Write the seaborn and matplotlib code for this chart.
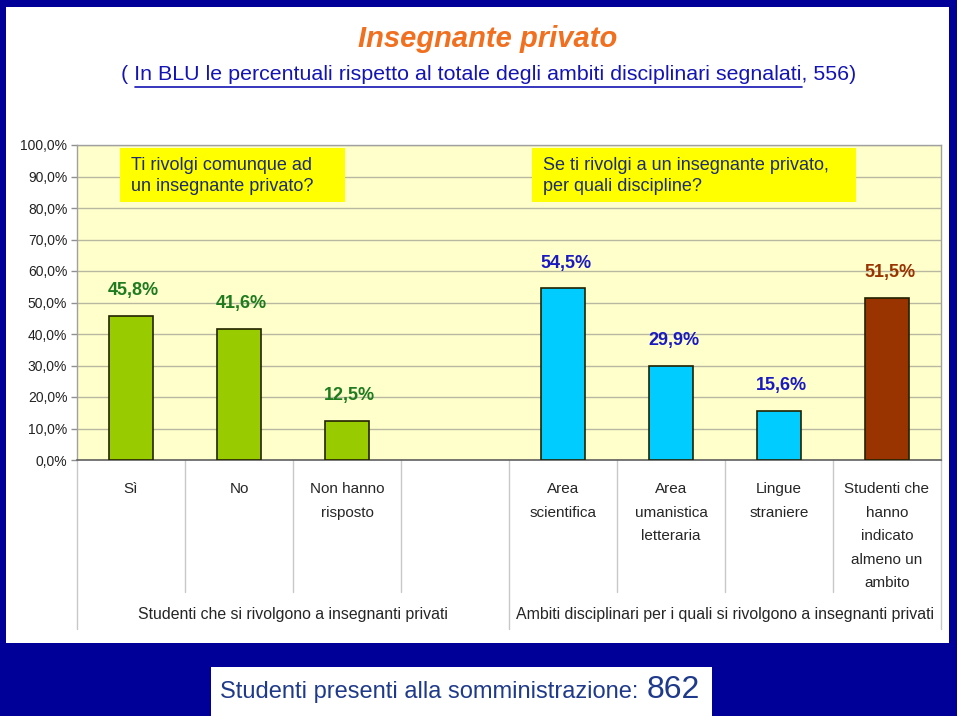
import matplotlib
matplotlib.use('Agg')
import matplotlib.pyplot as plt
import matplotlib.transforms as mtransforms
from matplotlib.patches import Rectangle
from matplotlib.font_manager import FontProperties
import seaborn as sns
import pandas as pd

# dati
chiavi = ['Sì', 'No', 'Non hanno risposto', ' ', 'Area scientifica',
          'Area umanistica letteraria', 'Lingue straniere', 'Studenti che hanno indicato almeno un ambito']
etichette_cat = ['Sì', 'No', 'Non hanno\nrisposto', '', 'Area\nscientifica',
                 'Area\numanistica\nletteraria', 'Lingue\nstraniere',
                 'Studenti che\nhanno\nindicato\nalmeno un\nambito']
valori = [45.8, 41.6, 12.5, None, 54.5, 29.9, 15.6, 51.5]
colori_barre = ['#99CC00', '#99CC00', '#99CC00', None, '#00CCFF', '#00CCFF', '#00CCFF', '#993300']
colori_testo = ['#1E7B1E', '#1E7B1E', '#1E7B1E', None, '#1A1AC0', '#1A1AC0', '#1A1AC0', '#993300']
gruppi = ['Studenti che si rivolgono a insegnanti privati',
          'Ambiti disciplinari per i quali si rivolgono a insegnanti privati']

sns.set_style('white')
plt.rcParams['font.family'] = ['Liberation Sans', 'DejaVu Sans']

W, H = 960, 716
fig = plt.figure(figsize=(9.6, 7.16), dpi=100, facecolor='#000099')

def fx(x):
    return x / W

def fy(y):
    return 1 - y / H

# cornice bianca
fig.add_artist(Rectangle((fx(6), fy(643)), fx(949) - fx(6), fy(7) - fy(643),
                         transform=fig.transFigure, facecolor='white', edgecolor='none', zorder=-5))
fig.add_artist(Rectangle((fx(957), 0), fx(960) - fx(957), 1,
                         transform=fig.transFigure, facecolor='white', edgecolor='none', zorder=-5))
fig.add_artist(Rectangle((fx(211), fy(716)), fx(712) - fx(211), fy(667) - fy(716),
                         transform=fig.transFigure, facecolor='white', edgecolor='none', zorder=-5))

ax = fig.add_axes([fx(77), fy(460), fx(941) - fx(77), fy(145) - fy(460)])
ax.set_facecolor('#FFFFCC')

df = pd.DataFrame({'cat': [k for k, v in zip(chiavi, valori) if v is not None],
                   'val': [v for v in valori if v is not None]})
palette = {k: c for k, c in zip(chiavi, colori_barre) if c is not None}
sns.barplot(data=df, x='cat', y='val', hue='cat', order=chiavi, palette=palette, saturation=1,
            width=0.4, edgecolor='#222200', linewidth=1.2, legend=False, ax=ax, zorder=3)

ax.set_xlim(-0.5, len(chiavi) - 0.5)
ax.set_ylim(0, 100)
ax.set_yticks(range(0, 101, 10))
ax.set_yticklabels([f'{v:.1f}%'.replace('.', ',') for v in range(0, 101, 10)], fontsize=10, color='#222222')
ax.yaxis.grid(True, color='#B8B8A0', linewidth=1, zorder=0)
ax.set_axisbelow(True)
ax.tick_params(axis='y', length=4, width=1, color='#909090', pad=3, left=True)
ax.set_xticks(range(len(chiavi)))
ax.set_xticklabels(etichette_cat, fontsize=11, linespacing=1.86)
ax.tick_params(axis='x', length=0, pad=16)
ax.set_xlabel('')
ax.set_ylabel('')
for s in ['top', 'right', 'left']:
    ax.spines[s].set_color('#A0A0A0')
    ax.spines[s].set_linewidth(1)
ax.spines['bottom'].set_color('#606060')
ax.spines['bottom'].set_linewidth(1.2)

for i, (v, lab_c) in enumerate(zip(valori, colori_testo)):
    if v is None:
        continue
    ax.annotate(f'{v:.1f}%'.replace('.', ','), (i, v), xytext=(2, 18), textcoords='offset points',
                ha='center', va='center', fontsize=13, fontweight='bold', color=lab_c)

# separatori sotto l'asse
trans = mtransforms.blended_transform_factory(ax.transData, ax.transAxes)
for x in [0.5, 1.5, 2.5, 4.5, 5.5, 6.5]:
    ax.plot([x, x], [0, -0.42], transform=trans, color='#C8C8C8', lw=1, clip_on=False)
for x in [-0.5, 3.5, 7.5]:
    ax.plot([x, x], [0, -0.535], transform=trans, color='#C8C8C8', lw=1, clip_on=False)
ax.text(1.5, -0.492, gruppi[0], transform=trans, ha='center', va='center', fontsize=11.4)
ax.text(5.5, -0.492, gruppi[1], transform=trans, ha='center', va='center', fontsize=11.4)

# riquadri con le domande
col_dom = '#1C2C6C'
fig.add_artist(Rectangle((fx(120), fy(202)), fx(345) - fx(120), fy(148) - fy(202),
                         transform=fig.transFigure, facecolor='#FFFF00', edgecolor='none', zorder=2))
fig.text(fx(131), fy(176), 'Ti rivolgi comunque ad\nun insegnante privato?', ha='left', va='center',
         fontsize=13, color=col_dom, linespacing=1.3, zorder=4)
fig.add_artist(Rectangle((fx(532), fy(202)), fx(856) - fx(532), fy(148) - fy(202),
                         transform=fig.transFigure, facecolor='#FFFF00', edgecolor='none', zorder=2))
fig.text(fx(543), fy(176), 'Se ti rivolgi a un insegnante privato,\nper quali discipline?', ha='left',
         va='center', fontsize=13, color=col_dom, linespacing=1.3, zorder=4)

# titolo e sottotitolo
fig.text(fx(488), fy(39), 'Insegnante privato', ha='center', va='center', fontsize=21,
         fontweight='bold', fontstyle='italic', color='#F07020')
sub_col = '#1414B4'
sub_size = 15.4
pre = '( '
sott = 'In BLU le percentuali rispetto al totale degli ambiti disciplinari segnalati'
post = ', 556)'
fig.text(fx(489), fy(75), pre + sott + post, ha='center', va='center', fontsize=sub_size, color=sub_col)
rend = fig.canvas.get_renderer()
prop = FontProperties(family=['Liberation Sans', 'DejaVu Sans'], size=sub_size)
w_all = rend.get_text_width_height_descent(pre + sott + post, prop, ismath=False)[0]
w_pre = rend.get_text_width_height_descent(pre, prop, ismath=False)[0]
w_sott = rend.get_text_width_height_descent(pre + sott, prop, ismath=False)[0]
x0 = 489 - w_all / 2
fig.add_artist(plt.Line2D([fx(x0 + w_pre), fx(x0 + w_sott)], [fy(87), fy(87)],
                          transform=fig.transFigure, color=sub_col, lw=1.2))

# riquadro in basso
fig.text(fx(220), fy(692), 'Studenti presenti alla somministrazione: ', ha='left', va='center',
         fontsize=17, color='#1F3A8A')
fig.text(fx(700), fy(690), '862', ha='right', va='center', fontsize=23, color='#1F3A8A')

fig.savefig('out.png', dpi=100, facecolor=fig.get_facecolor())
